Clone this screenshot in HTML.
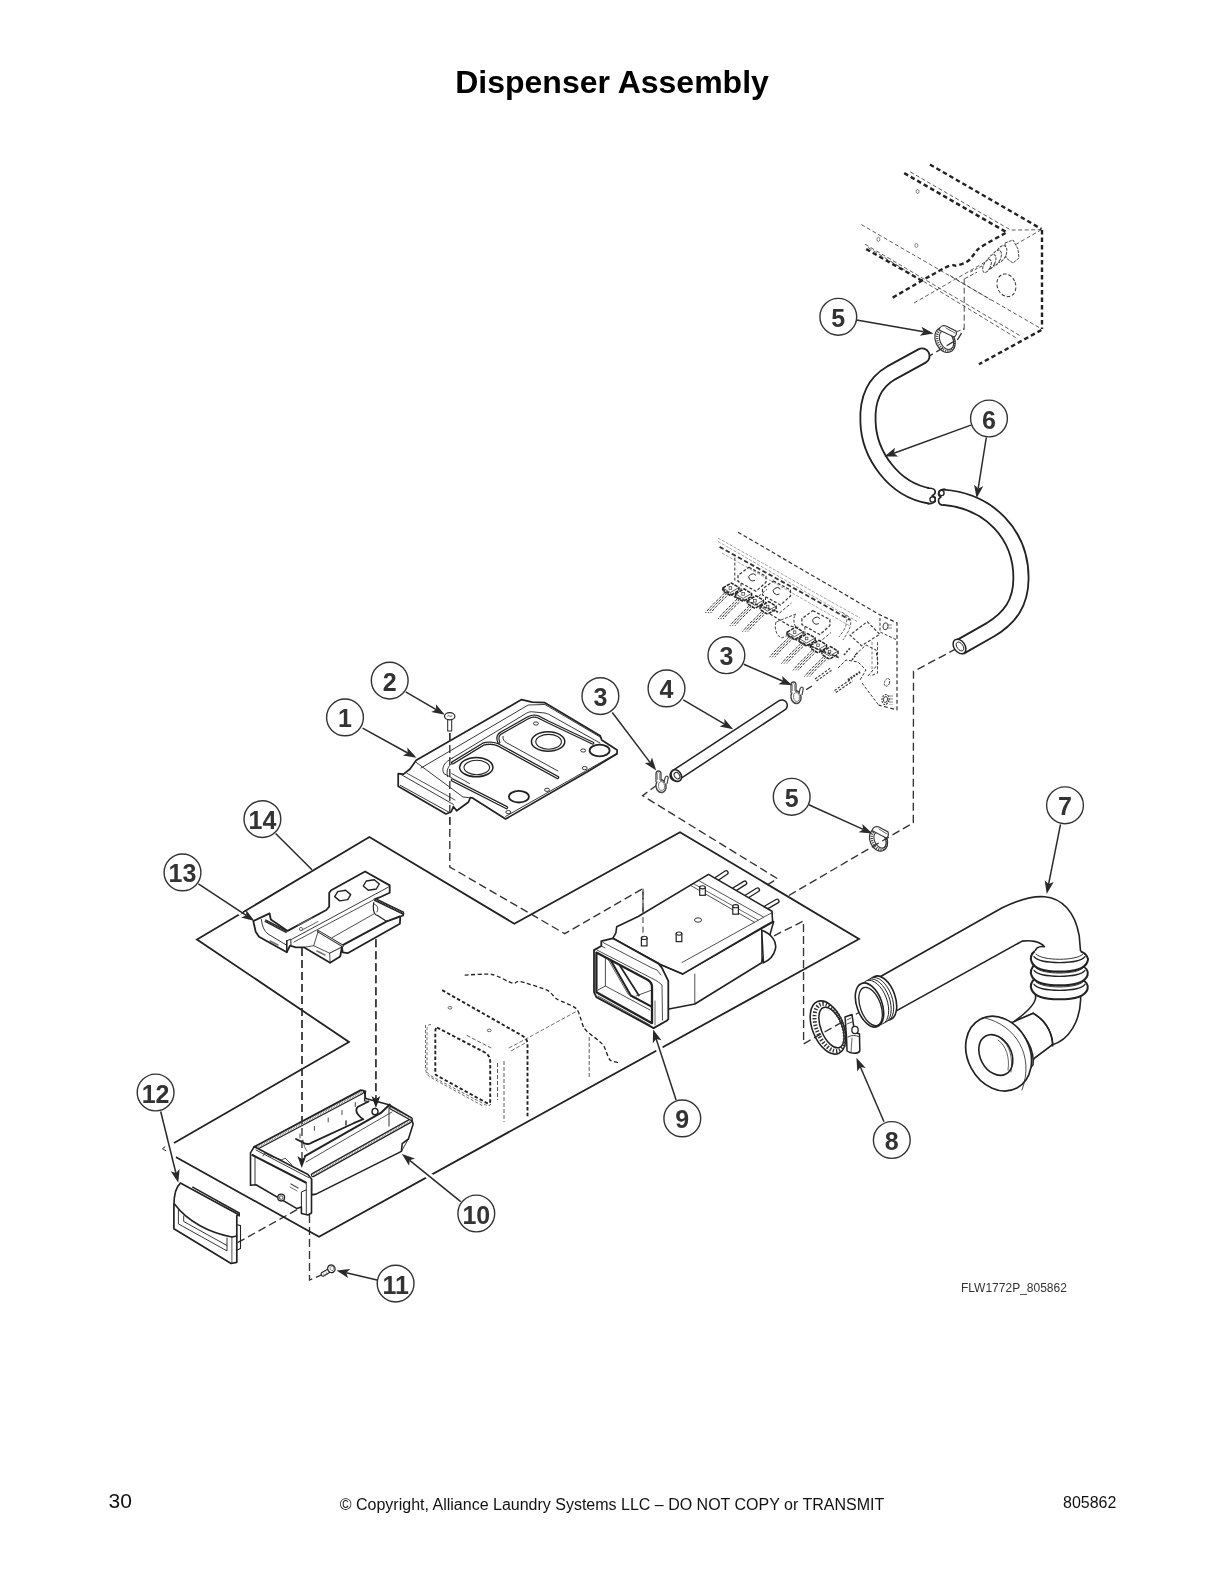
<!DOCTYPE html>
<html><head><meta charset="utf-8">
<style>
html,body{margin:0;padding:0;background:#fff;}
body{width:1224px;height:1584px;overflow:hidden;position:relative;}
svg{position:absolute;left:0;top:0;will-change:transform;}
text{font-family:"Liberation Sans",sans-serif;}
</style></head>
<body>
<svg width="1224" height="1584" viewBox="0 0 1224 1584">
<text x="612" y="93" text-anchor="middle" font-size="32" font-weight="bold" fill="#000">Dispenser Assembly</text>
<text x="108.5" y="1508" font-size="21" fill="#111">30</text>
<text x="612" y="1510" text-anchor="middle" font-size="16" fill="#111">© Copyright, Alliance Laundry Systems LLC – DO NOT COPY or TRANSMIT</text>
<text x="1063" y="1508" font-size="16" fill="#111">805862</text>
<text x="961" y="1292" font-size="12" fill="#333">FLW1772P_805862</text>
<path d="M929.9,164.5 L1041.4,229" fill="none" stroke="#222" stroke-width="2.4" stroke-dasharray="4.5,3"/>
<path d="M1042,230 L1042,329" fill="none" stroke="#222" stroke-width="2.4" stroke-dasharray="4.5,3"/>
<path d="M1041.4,330 L978.9,364.3" fill="none" stroke="#222" stroke-width="2.4" stroke-dasharray="4.5,3"/>
<path d="M904.2,173.1 L1005.9,231.9" fill="none" stroke="#222" stroke-width="2.4" stroke-dasharray="4.5,3"/>
<path d="M866.2,249.1 L922.5,281" fill="none" stroke="#222" stroke-width="2.4" stroke-dasharray="4.5,3"/>
<path d="M1005.6,233 C1001.5,235.3 986.1,243.7 981,247 C975.9,250.3 977.2,250.7 975,253 C972.8,255.3 971,258.9 968,261 C965,263.1 960.9,264.3 957,265.5 C953.1,266.7 955.5,262.6 944.6,268 C933.8,273.4 900.7,293.1 891.9,298.1" fill="none" stroke="#222" stroke-width="2.4" stroke-dasharray="4.5,3"/>
<path d="M910.3,171.9 L1010.8,230.1 L1041.4,229.7" fill="none" stroke="#333" stroke-width="0.8" stroke-dasharray="4,2.5"/>
<path d="M861.3,224.6 L1039,327.5" fill="none" stroke="#333" stroke-width="0.8" stroke-dasharray="4,2.5"/>
<path d="M865,244.2 L1020.6,336" fill="none" stroke="#333" stroke-width="0.8" stroke-dasharray="4,2.5"/>
<path d="M868,247.5 L1018,339" fill="none" stroke="#333" stroke-width="0.8" stroke-dasharray="4,2.5"/>
<path d="M914,303 L1041.4,229.7" fill="none" stroke="#333" stroke-width="0.8" stroke-dasharray="4,2.5"/>
<path d="M950,275.5 L990.8,300" fill="none" stroke="#333" stroke-width="0.8" stroke-dasharray="4,2.5"/>
<ellipse cx="1006.4" cy="285.3" rx="9.2" ry="11.6" transform="rotate(-20 1006.4 285.3)" fill="none" stroke="#333" stroke-width="1" stroke-dasharray="3.5,2"/>
<path d="M1005,243 L1013,240 L1018,249 L1019,258 L1013,263 L1006,258 Z" fill="#fff" stroke="#333" stroke-width="0.9" stroke-dasharray="3,1"/>
<ellipse cx="1001" cy="254" rx="5" ry="9" transform="rotate(25 1001 254)" fill="#fff" stroke="#333" stroke-width="0.9" stroke-dasharray="3,1"/>
<ellipse cx="996" cy="258" rx="4.5" ry="8.5" transform="rotate(25 996 258)" fill="#fff" stroke="#333" stroke-width="0.9" stroke-dasharray="3,1"/>
<ellipse cx="991" cy="262" rx="4" ry="8" transform="rotate(25 991 262)" fill="#fff" stroke="#333" stroke-width="0.9" stroke-dasharray="3,1"/>
<ellipse cx="987" cy="266" rx="3.5" ry="7" transform="rotate(25 987 266)" fill="#fff" stroke="#333" stroke-width="0.9" stroke-dasharray="3,1"/>
<path d="M982,266 L970,272" fill="none" stroke="#333" stroke-width="0.9" stroke-dasharray="3,2"/>
<path d="M964.2,278.7 L964.2,328.7 L952,333.6" fill="none" stroke="#333" stroke-width="0.9" stroke-dasharray="6,3"/>
<path d="M964.7,278.7 L977,272.2" fill="none" stroke="#333" stroke-width="0.9" stroke-dasharray="4,2"/>
<ellipse cx="917.6" cy="191.5" rx="1.5" ry="2" transform="rotate(0 917.6 191.5)" fill="none" stroke="#555" stroke-width="0.7"/>
<ellipse cx="878.4" cy="239.3" rx="1.5" ry="2" transform="rotate(0 878.4 239.3)" fill="none" stroke="#555" stroke-width="0.7"/>
<ellipse cx="916.4" cy="245.4" rx="1.5" ry="2" transform="rotate(0 916.4 245.4)" fill="none" stroke="#555" stroke-width="0.7"/>
<path d="M738,532.2 L880,614.9 L897,622.9 L897,709.8 L878.7,705.2" fill="none" stroke="#333" stroke-width="1.2" stroke-dasharray="4,2.5"/>
<path d="M719.6,546.9 L820,602.7 L850,620" fill="none" stroke="#333" stroke-width="1.8" stroke-dasharray="4.5,2.5"/>
<path d="M718,538 L860,618" fill="none" stroke="#666" stroke-width="0.6" stroke-dasharray="3,1.5"/>
<path d="M718,541.5 L858,622" fill="none" stroke="#666" stroke-width="0.6" stroke-dasharray="3,1.5"/>
<path d="M722,553 L850,626" fill="none" stroke="#666" stroke-width="0.6" stroke-dasharray="3,1.5"/>
<path d="M734.8,557.6 L734.8,581" fill="none" stroke="#333" stroke-width="1.0" stroke-dasharray="3,2"/>
<path d="M846,615 C852,618 852,624 848,632 L843,640" fill="none" stroke="#444" stroke-width="0.8" stroke-dasharray="3,1.5"/>
<path d="M842,612 C848,616 848,622 844,630 L839,637" fill="none" stroke="#444" stroke-width="0.8" stroke-dasharray="3,1.5"/>
<path d="M749,567.3 L766,576.3 L766,582.3 L756,591.3 L738,581.3 L738,575.3Z" fill="none" stroke="#333" stroke-width="1.2" stroke-dasharray="3,1.8"/>
<path d="M756,575.3 A4,3.5 0 1 0 755,580.3" fill="none" stroke="#333" stroke-width="1"/>
<path d="M741,583.3 L741,591.3 L755,599.3 L767,589.3" fill="none" stroke="#333" stroke-width="1.0" stroke-dasharray="3,1.8"/>
<path d="M773.5,581 L790.5,590 L790.5,596 L780.5,605 L762.5,595 L762.5,589Z" fill="none" stroke="#333" stroke-width="1.2" stroke-dasharray="3,1.8"/>
<path d="M780.5,589 A4,3.5 0 1 0 779.5,594" fill="none" stroke="#333" stroke-width="1"/>
<path d="M765.5,597 L765.5,605 L779.5,613 L791.5,603" fill="none" stroke="#333" stroke-width="1.0" stroke-dasharray="3,1.8"/>
<path d="M812.9,610.6 L829.9,619.6 L829.9,625.6 L819.9,634.6 L801.9,624.6 L801.9,618.6Z" fill="none" stroke="#333" stroke-width="1.2" stroke-dasharray="3,1.8"/>
<path d="M819.9,618.6 A4,3.5 0 1 0 818.9,623.6" fill="none" stroke="#333" stroke-width="1"/>
<path d="M804.9,626.6 L804.9,634.6 L818.9,642.6 L830.9,632.6" fill="none" stroke="#333" stroke-width="1.0" stroke-dasharray="3,1.8"/>
<path d="M776,622 C774,628 776,636 782,638 L798,630 C794,626 792,618 796,614 Z" fill="none" stroke="#444" stroke-width="1" stroke-dasharray="3,1.5"/>
<path d="M724.4,593 C721.4,597 713.4,603 705.4,613" fill="none" stroke="#333" stroke-width="1.0" stroke-dasharray="3.2,1.2"/>
<path d="M727.0,593 C724.0,597 716.0,603 708.0,613" fill="none" stroke="#333" stroke-width="1.0" stroke-dasharray="3.2,1.2"/>
<path d="M729.6,593 C726.6,597 718.6,603 710.6,613" fill="none" stroke="#333" stroke-width="1.0" stroke-dasharray="3.2,1.2"/>
<path d="M737.1,598.9 C734.1,602.9 726.1,608.9 718.1,618.9" fill="none" stroke="#333" stroke-width="1.0" stroke-dasharray="3.2,1.2"/>
<path d="M739.7,598.9 C736.7,602.9 728.7,608.9 720.7,618.9" fill="none" stroke="#333" stroke-width="1.0" stroke-dasharray="3.2,1.2"/>
<path d="M742.3000000000001,598.9 C739.3000000000001,602.9 731.3000000000001,608.9 723.3000000000001,618.9" fill="none" stroke="#333" stroke-width="1.0" stroke-dasharray="3.2,1.2"/>
<path d="M748.9,605.8 C745.9,609.8 737.9,615.8 729.9,625.8" fill="none" stroke="#333" stroke-width="1.0" stroke-dasharray="3.2,1.2"/>
<path d="M751.5,605.8 C748.5,609.8 740.5,615.8 732.5,625.8" fill="none" stroke="#333" stroke-width="1.0" stroke-dasharray="3.2,1.2"/>
<path d="M754.1,605.8 C751.1,609.8 743.1,615.8 735.1,625.8" fill="none" stroke="#333" stroke-width="1.0" stroke-dasharray="3.2,1.2"/>
<path d="M761.6,611.6 C758.6,615.6 750.6,621.6 742.6,631.6" fill="none" stroke="#333" stroke-width="1.0" stroke-dasharray="3.2,1.2"/>
<path d="M764.2,611.6 C761.2,615.6 753.2,621.6 745.2,631.6" fill="none" stroke="#333" stroke-width="1.0" stroke-dasharray="3.2,1.2"/>
<path d="M766.8000000000001,611.6 C763.8000000000001,615.6 755.8000000000001,621.6 747.8000000000001,631.6" fill="none" stroke="#333" stroke-width="1.0" stroke-dasharray="3.2,1.2"/>
<path d="M722.9,588 L731.4,583 L738.9,587.5 L738.9,590.5 L730.4,595.5 L722.9,591 Z" fill="#fff" stroke="#222" stroke-width="1.5" stroke-dasharray="3.5,1"/>
<path d="M722.9,588 L730.4,592.5 L738.9,587.5" fill="none" stroke="#333" stroke-width="0.8"/>
<rect x="729.1" y="586.7" width="2.6" height="2.6" fill="none" stroke="#333" stroke-width="0.7"/>
<path d="M735.6,593.9 L744.1,588.9 L751.6,593.4 L751.6,596.4 L743.1,601.4 L735.6,596.9 Z" fill="#fff" stroke="#222" stroke-width="1.5" stroke-dasharray="3.5,1"/>
<path d="M735.6,593.9 L743.1,598.4 L751.6,593.4" fill="none" stroke="#333" stroke-width="0.8"/>
<rect x="741.8000000000001" y="592.6" width="2.6" height="2.6" fill="none" stroke="#333" stroke-width="0.7"/>
<path d="M747.4,600.8 L755.9,595.8 L763.4,600.3 L763.4,603.3 L754.9,608.3 L747.4,603.8 Z" fill="#fff" stroke="#222" stroke-width="1.5" stroke-dasharray="3.5,1"/>
<path d="M747.4,600.8 L754.9,605.3 L763.4,600.3" fill="none" stroke="#333" stroke-width="0.8"/>
<rect x="753.6" y="599.5" width="2.6" height="2.6" fill="none" stroke="#333" stroke-width="0.7"/>
<path d="M760.1,606.6 L768.6,601.6 L776.1,606.1 L776.1,609.1 L767.6,614.1 L760.1,609.6 Z" fill="#fff" stroke="#222" stroke-width="1.5" stroke-dasharray="3.5,1"/>
<path d="M760.1,606.6 L767.6,611.1 L776.1,606.1" fill="none" stroke="#333" stroke-width="0.8"/>
<rect x="766.3000000000001" y="605.3000000000001" width="2.6" height="2.6" fill="none" stroke="#333" stroke-width="0.7"/>
<path d="M788.6,637.2 C785.6,641.2 777.6,647.2 769.6,657.2" fill="none" stroke="#333" stroke-width="1.0" stroke-dasharray="3.2,1.2"/>
<path d="M791.2,637.2 C788.2,641.2 780.2,647.2 772.2,657.2" fill="none" stroke="#333" stroke-width="1.0" stroke-dasharray="3.2,1.2"/>
<path d="M793.8000000000001,637.2 C790.8000000000001,641.2 782.8000000000001,647.2 774.8000000000001,657.2" fill="none" stroke="#333" stroke-width="1.0" stroke-dasharray="3.2,1.2"/>
<path d="M800.6,643.5 C797.6,647.5 789.6,653.5 781.6,663.5" fill="none" stroke="#333" stroke-width="1.0" stroke-dasharray="3.2,1.2"/>
<path d="M803.2,643.5 C800.2,647.5 792.2,653.5 784.2,663.5" fill="none" stroke="#333" stroke-width="1.0" stroke-dasharray="3.2,1.2"/>
<path d="M805.8000000000001,643.5 C802.8000000000001,647.5 794.8000000000001,653.5 786.8000000000001,663.5" fill="none" stroke="#333" stroke-width="1.0" stroke-dasharray="3.2,1.2"/>
<path d="M812.0,650.3 C809.0,654.3 801.0,660.3 793.0,670.3" fill="none" stroke="#333" stroke-width="1.0" stroke-dasharray="3.2,1.2"/>
<path d="M814.6,650.3 C811.6,654.3 803.6,660.3 795.6,670.3" fill="none" stroke="#333" stroke-width="1.0" stroke-dasharray="3.2,1.2"/>
<path d="M817.2,650.3 C814.2,654.3 806.2,660.3 798.2,670.3" fill="none" stroke="#333" stroke-width="1.0" stroke-dasharray="3.2,1.2"/>
<path d="M823.5,656.6 C820.5,660.6 812.5,666.6 804.5,676.6" fill="none" stroke="#333" stroke-width="1.0" stroke-dasharray="3.2,1.2"/>
<path d="M826.1,656.6 C823.1,660.6 815.1,666.6 807.1,676.6" fill="none" stroke="#333" stroke-width="1.0" stroke-dasharray="3.2,1.2"/>
<path d="M828.7,656.6 C825.7,660.6 817.7,666.6 809.7,676.6" fill="none" stroke="#333" stroke-width="1.0" stroke-dasharray="3.2,1.2"/>
<path d="M787.1,632.2 L795.6,627.2 L803.1,631.7 L803.1,634.7 L794.6,639.7 L787.1,635.2 Z" fill="#fff" stroke="#222" stroke-width="1.5" stroke-dasharray="3.5,1"/>
<path d="M787.1,632.2 L794.6,636.7 L803.1,631.7" fill="none" stroke="#333" stroke-width="0.8"/>
<rect x="793.3000000000001" y="630.9000000000001" width="2.6" height="2.6" fill="none" stroke="#333" stroke-width="0.7"/>
<path d="M799.1,638.5 L807.6,633.5 L815.1,638.0 L815.1,641.0 L806.6,646.0 L799.1,641.5 Z" fill="#fff" stroke="#222" stroke-width="1.5" stroke-dasharray="3.5,1"/>
<path d="M799.1,638.5 L806.6,643.0 L815.1,638.0" fill="none" stroke="#333" stroke-width="0.8"/>
<rect x="805.3000000000001" y="637.2" width="2.6" height="2.6" fill="none" stroke="#333" stroke-width="0.7"/>
<path d="M810.5,645.3 L819,640.3 L826.5,644.8 L826.5,647.8 L818,652.8 L810.5,648.3 Z" fill="#fff" stroke="#222" stroke-width="1.5" stroke-dasharray="3.5,1"/>
<path d="M810.5,645.3 L818,649.8 L826.5,644.8" fill="none" stroke="#333" stroke-width="0.8"/>
<rect x="816.7" y="644.0" width="2.6" height="2.6" fill="none" stroke="#333" stroke-width="0.7"/>
<path d="M822.0,651.6 L830.5,646.6 L838.0,651.1 L838.0,654.1 L829.5,659.1 L822.0,654.6 Z" fill="#fff" stroke="#222" stroke-width="1.5" stroke-dasharray="3.5,1"/>
<path d="M822.0,651.6 L829.5,656.1 L838.0,651.1" fill="none" stroke="#333" stroke-width="0.8"/>
<rect x="828.2" y="650.3000000000001" width="2.6" height="2.6" fill="none" stroke="#333" stroke-width="0.7"/>
<path d="M722.5,589 L735,597 L778,612" fill="none" stroke="#333" stroke-width="1.6" stroke-dasharray="3,1.5"/>
<path d="M787,634 L800,642 L840,658" fill="none" stroke="#333" stroke-width="1.6" stroke-dasharray="3,1.5"/>
<path d="M770,614 L790,626 L800,628" fill="none" stroke="#333" stroke-width="1.2" stroke-dasharray="3,1.8"/>
<path d="M815.8,680 L831.8,668.6" fill="none" stroke="#333" stroke-width="3.5" stroke-dasharray="2.5,1.5"/>
<path d="M815.8,680 L831.8,668.6" stroke="#fff" stroke-width="1.5"/>
<path d="M835.2,691.5 L852,680" fill="none" stroke="#333" stroke-width="3.5" stroke-dasharray="2.5,1.5"/>
<path d="M835.2,691.5 L852,680" stroke="#fff" stroke-width="1.5"/>
<path d="M848,680 L860,672" fill="none" stroke="#333" stroke-width="2.2" stroke-dasharray="2,1.2"/>
<path d="M838,668 L846,660 L858,662 L866,670 L860,680" fill="none" stroke="#333" stroke-width="1.0" stroke-dasharray="3,1.8"/>
<path d="M855,655 L866,645 L876,650 L878,664 L868,676" fill="none" stroke="#333" stroke-width="1.0" stroke-dasharray="3,1.8"/>
<path d="M844,655 L850,648" fill="none" stroke="#333" stroke-width="1.5" stroke-dasharray="2,1.5"/>
<path d="M852,660 L858,652" fill="none" stroke="#333" stroke-width="1.5" stroke-dasharray="2,1.5"/>
<path d="M867.2,621.7 L879.8,634.3 L861.5,645.7 L850,635Z" fill="none" stroke="#333" stroke-width="1.1" stroke-dasharray="3,1.8"/>
<path d="M877.5,642.3 L877.5,673.2 L870,676" fill="none" stroke="#333" stroke-width="0.9" stroke-dasharray="3,1.8"/>
<path d="M872,642 L872,670" fill="none" stroke="#333" stroke-width="0.6" stroke-dasharray="3,1.8"/>
<path d="M880,618 L880,632 L897,640" fill="none" stroke="#333" stroke-width="1.0" stroke-dasharray="3,1.8"/>
<ellipse cx="885.5" cy="626.3" rx="2.5" ry="3.5" transform="rotate(10 885.5 626.3)" fill="none" stroke="#333" stroke-width="0.9"/>
<path d="M889,624 L889,630" fill="none" stroke="#333" stroke-width="0.6" stroke-dasharray="2,1"/>
<path d="M891,624 L891,630" fill="none" stroke="#333" stroke-width="0.6" stroke-dasharray="2,1"/>
<ellipse cx="885.5" cy="699.5" rx="3.5" ry="5" transform="rotate(10 885.5 699.5)" fill="none" stroke="#333" stroke-width="1" stroke-dasharray="2,1"/>
<ellipse cx="885.5" cy="699.5" rx="2" ry="3" transform="rotate(10 885.5 699.5)" fill="none" stroke="#333" stroke-width="0.9"/>
<ellipse cx="887" cy="682.4" rx="2.5" ry="4" transform="rotate(20 887 682.4)" fill="none" stroke="#333" stroke-width="0.9" stroke-dasharray="2,1"/>
<path d="M862,683 L878.7,705.2" fill="none" stroke="#333" stroke-width="1.0" stroke-dasharray="3,1.8"/>
<path d="M890,695 L890,705" fill="none" stroke="#333" stroke-width="0.6" stroke-dasharray="2,1"/>
<path d="M892,695 L892,705" fill="none" stroke="#333" stroke-width="0.6" stroke-dasharray="2,1"/>
<path d="M464.7,975.1 C467.9,975 486.6,973.5 492.2,974.5 C497.8,975.5 509.5,982.5 512.7,983.3 C515.9,984.1 515.6,980.6 519.6,981.4 C523.6,982.2 542.6,988.1 547,990.2 C551.4,992.3 553.5,996.8 556.9,999 C560.3,1001.2 573.3,1005.4 576.5,1008.8 C579.7,1012.2 581.8,1024.7 584.3,1028.4 C586.8,1032.1 595.7,1038.1 598,1040.2 C600.3,1042.3 602.5,1043.8 603.9,1046.1 C605.3,1048.4 608.1,1057.9 609.8,1059.8 C611.5,1061.7 617.6,1062.4 618.6,1062.7" fill="none" stroke="#222" stroke-width="1.3" stroke-dasharray="4,2.5"/>
<path d="M442.2,990.2 L521,1035 C525,1037 527.5,1040 527.5,1044 L527.5,1117" fill="none" stroke="#222" stroke-width="1.9" stroke-dasharray="3.5,2.2"/>
<path d="M437,1027.5 L484,1052 C488,1054 490.2,1057 490.2,1062 L490.2,1101 C490,1104 488,1104 485,1102 L436,1075 C435.3,1074 435.3,1072 435.3,1068 L435.3,1032 C435.3,1029 436,1027.5 437,1027.5 Z" fill="none" stroke="#222" stroke-width="1.9" stroke-dasharray="3.5,2.2"/>
<path d="M431,1024.5 C428,1024.5 427,1026 427,1030 L427,1070 C427,1073 429,1075 432,1076.5 L484,1104 C487,1106 490,1106 491,1104" fill="none" stroke="#444" stroke-width="0.8" stroke-dasharray="3,2"/>
<path d="M425.5,1025 L425.5,1068 C425.5,1072 427,1075 430,1077 L483,1106" fill="none" stroke="#444" stroke-width="0.8" stroke-dasharray="3,2"/>
<path d="M466.7,1035.3 L491.2,1048" fill="none" stroke="#333" stroke-width="0.8" stroke-dasharray="4,2"/>
<path d="M508.8,1048 L525.5,1039.2 L577.5,1010.8" fill="none" stroke="#333" stroke-width="0.7" stroke-dasharray="4,2"/>
<path d="M511,1051 L527,1042" fill="none" stroke="#333" stroke-width="0.7" stroke-dasharray="4,2"/>
<path d="M497.5,1063 L497.5,1100" fill="none" stroke="#333" stroke-width="0.8" stroke-dasharray="4,2"/>
<path d="M504,1061 L504,1122" fill="none" stroke="#333" stroke-width="0.8" stroke-dasharray="4,2"/>
<path d="M589.2,1037 L589.2,1077.5" fill="none" stroke="#333" stroke-width="0.8" stroke-dasharray="4,2"/>
<ellipse cx="450" cy="1007.8" rx="2" ry="1.3" transform="rotate(0 450 1007.8)" fill="none" stroke="#444" stroke-width="0.8"/>
<ellipse cx="489.2" cy="1030.4" rx="2" ry="1.3" transform="rotate(0 489.2 1030.4)" fill="none" stroke="#444" stroke-width="0.8"/>
<path d="M449.8,733 L449.8,867 L564.7,933.7 L643,888.6 L643,937.6" fill="none" stroke="#333" stroke-width="1.35" stroke-dasharray="8,4"/>
<path d="M657,785 L642.6,795.7 L777.4,878.6 L764.3,886.8" fill="none" stroke="#333" stroke-width="1.35" stroke-dasharray="8,4"/>
<path d="M956.4,648.7 L913.5,671.4 L913.3,822.8 L787,896.6" fill="none" stroke="#333" stroke-width="1.35" stroke-dasharray="8,4"/>
<path d="M774,935.8 L803.5,921 L803.6,1043.9 L877.2,1002.2" fill="none" stroke="#333" stroke-width="1.35" stroke-dasharray="8,4"/>
<path d="M302,948 L302,1160" fill="none" stroke="#333" stroke-width="1.35" stroke-dasharray="8,4"/>
<path d="M375.9,939.3 L375.9,1100" fill="none" stroke="#333" stroke-width="1.35" stroke-dasharray="8,4"/>
<path d="M309.5,1215 L309.5,1280 L333,1270" fill="none" stroke="#333" stroke-width="1.35" stroke-dasharray="8,4"/>
<path d="M237.5,1242.7 L299.3,1208.4" fill="none" stroke="#333" stroke-width="1.35" stroke-dasharray="8,4"/>
<path d="M926,358 L958,339 L964.2,328.7" fill="none" stroke="#333" stroke-width="1.35" stroke-dasharray="8,4"/>
<path d="M796,696 L812,686" fill="none" stroke="#333" stroke-width="1.35" stroke-dasharray="8,4"/>
<path d="M174,1143 L349,1042 L197,939.5 L369.4,837.1 L514.3,923.7 L680,832.2 L859,939 L319,1236.7 L175.7,1157" fill="none" stroke="#222" stroke-width="1.8"/>
<path d="M165.4,1146.5 L162.5,1148.7 L166.3,1151" fill="none" stroke="#222" stroke-width="1"/>
<path d="M922,356 L891,373 C872,384 867,402 868,422 C869,454 893,490 930,496" fill="none" stroke="#222" stroke-width="17" stroke-linecap="round"/>
<path d="M922,356 L891,373 C872,384 867,402 868,422 C869,454 893,490 930,496" fill="none" stroke="#fff" stroke-width="13.4" stroke-linecap="round"/>
<rect x="929" y="484" width="12" height="24" fill="#fff"/>
<path d="M928,488.3 L930.7,488.3 C936,489 937,493 932,496 C937,497 938,502 930.7,503.6 L928,503.6" fill="none" stroke="#222" stroke-width="1.6" stroke-linejoin="round" stroke-linecap="round" />
<circle cx="932.5" cy="499.5" r="2.6" fill="none" stroke="#222" stroke-width="1.3"/>
<path d="M943,497.3 C990,501 1021,535 1021,578 C1021,603 1010,618 990,630 L960,647" fill="none" stroke="#222" stroke-width="17"/>
<path d="M943,497.3 C990,501 1021,535 1021,578 C1021,603 1010,618 990,630 L960,647" fill="none" stroke="#fff" stroke-width="13.4"/>
<rect x="936" y="486" width="7" height="22" fill="#fff"/>
<path d="M945,489.4 L943.2,489.4 C938,490 937,495 941,497 C937,499 938,505 943.2,505.2 L945,505.2" fill="none" stroke="#222" stroke-width="1.6" stroke-linejoin="round" stroke-linecap="round" />
<circle cx="941.5" cy="493" r="2.6" fill="none" stroke="#222" stroke-width="1.3"/>
<ellipse cx="959.5" cy="646.5" rx="5.5" ry="8" transform="rotate(-35 959.5 646.5)" fill="#fff" stroke="#222" stroke-width="1.5"/>
<ellipse cx="960" cy="646.5" rx="3" ry="5" transform="rotate(-35 960 646.5)" fill="#fff" stroke="#222" stroke-width="0.9"/>
<path d="M675.6,775.3 L781.8,705.4" fill="none" stroke="#222" stroke-width="12.5" stroke-linecap="round"/>
<path d="M675.6,775.3 L781.8,705.4" fill="none" stroke="#fff" stroke-width="9.5" stroke-linecap="round"/>
<ellipse cx="676.3" cy="775.6" rx="4.8" ry="6.2" transform="rotate(-35 676.3 775.6)" fill="#fff" stroke="#222" stroke-width="1.6"/>
<ellipse cx="677" cy="775.6" rx="2.5" ry="3.5" transform="rotate(-35 677 775.6)" fill="#fff" stroke="#222" stroke-width="1"/>
<path d="M521.6,699.6 L532.2,702.2 L544.9,702.7 L600.2,735.7 L601.7,740 L617.1,750 L617.1,753.7 L587.4,771.8 L505.6,819 L472.5,798 L470.4,797.5 L468.3,802.3 L456.6,810.8 L453.4,806.5 L451.3,811.8 L446,814 L398.2,786.3 L398.2,773.6 L403.5,774.1 L410,769 L416.2,760.3Z" fill="#fff" stroke="#222" stroke-width="1.7" stroke-linejoin="round"/>
<path d="M505.6,816.4 L617.1,753.2" fill="none" stroke="#222" stroke-width="0.9" stroke-linejoin="round" stroke-linecap="round" />
<path d="M421,768 L528.2,705 L544.9,704.5 L601.7,738" fill="none" stroke="#222" stroke-width="0.9" stroke-linejoin="round" stroke-linecap="round" />
<path d="M416.2,762.4 L463,797 L472.5,798" fill="none" stroke="#222" stroke-width="0.9" stroke-linejoin="round" stroke-linecap="round" />
<path d="M400.3,774.1 L453.4,804.4" fill="none" stroke="#222" stroke-width="0.9" stroke-linejoin="round" stroke-linecap="round" />
<path d="M400.3,785.3 L450.2,812.9" fill="none" stroke="#222" stroke-width="0.9" stroke-linejoin="round" stroke-linecap="round" />
<path d="M406.7,773.1 L455,800" fill="none" stroke="#222" stroke-width="0.8" stroke-linejoin="round" stroke-linecap="round" />
<path d="M452.7,757.9 L526.3,713.3 C529,711.8 531,711.5 533.1,711.9 L542.9,712.8 C546,713 548,714 550,715 L600,743" fill="none" stroke="#222" stroke-width="0.9" stroke-linejoin="round" stroke-linecap="round" />
<path d="M452.7,757.9 C444,762 441,768 443.9,773.6 L452,778" fill="none" stroke="#222" stroke-width="0.9" stroke-linejoin="round" stroke-linecap="round" />
<path d="M455,761.5 C448,765 446,770 447.5,776.5" fill="none" stroke="#222" stroke-width="0.9" stroke-linejoin="round" stroke-linecap="round" />
<path d="M452.7,762.8 L483.1,744.2 C487,742.8 494,742.6 498.8,745.2 L557.6,777.5" fill="none" stroke="#222" stroke-width="3.4" stroke-linecap="round"/>
<path d="M452.7,762.8 L483.1,744.2 C487,742.8 494,742.6 498.8,745.2 L557.6,777.5" fill="none" stroke="#fff" stroke-width="1.0" stroke-linecap="round"/>
<path d="M498.8,742.3 C497,738 498,734.4 502,732.5 L528.2,717.7 C532,715.8 535,715.8 538,716.8 L548,721.9 L592.7,743.1" fill="none" stroke="#222" stroke-width="3.2" stroke-linecap="round"/>
<path d="M498.8,742.3 C497,738 498,734.4 502,732.5 L528.2,717.7 C532,715.8 535,715.8 538,716.8 L548,721.9 L592.7,743.1" fill="none" stroke="#fff" stroke-width="0.9" stroke-linecap="round"/>
<path d="M503,736.4 C502.5,739 504,741.5 506.7,742.8 L558,771" fill="none" stroke="#222" stroke-width="0.9" stroke-linejoin="round" stroke-linecap="round" />
<path d="M452.4,780 L506.5,807.6" fill="none" stroke="#222" stroke-width="3.4" stroke-linecap="round"/>
<path d="M452.4,780 L506.5,807.6" fill="none" stroke="#fff" stroke-width="1.0" stroke-linecap="round"/>
<path d="M451.8,773.6 L469.4,783.4" fill="none" stroke="#222" stroke-width="0.8" stroke-linejoin="round" stroke-linecap="round" />
<ellipse cx="476.3" cy="767.2" rx="16.7" ry="9.6" transform="rotate(0 476.3 767.2)" fill="none" stroke="#222" stroke-width="1.5"/>
<ellipse cx="476.8" cy="767.5" rx="12.8" ry="7.2" transform="rotate(0 476.8 767.5)" fill="none" stroke="#222" stroke-width="1.1"/>
<ellipse cx="548.1" cy="741.5" rx="16.7" ry="9.8" transform="rotate(0 548.1 741.5)" fill="none" stroke="#222" stroke-width="1.5"/>
<ellipse cx="548.6" cy="741.8" rx="12.8" ry="7.4" transform="rotate(0 548.6 741.8)" fill="none" stroke="#222" stroke-width="1.1"/>
<ellipse cx="599.6" cy="750.5" rx="10" ry="5.8" transform="rotate(0 599.6 750.5)" fill="none" stroke="#222" stroke-width="1.8"/>
<ellipse cx="518.9" cy="796.7" rx="10" ry="5.8" transform="rotate(0 518.9 796.7)" fill="none" stroke="#222" stroke-width="1.8"/>
<ellipse cx="535.9" cy="723.5" rx="2.5" ry="1.6" transform="rotate(0 535.9 723.5)" fill="none" stroke="#222" stroke-width="0.9"/>
<ellipse cx="583.2" cy="750.5" rx="2.5" ry="1.6" transform="rotate(0 583.2 750.5)" fill="none" stroke="#222" stroke-width="0.9"/>
<ellipse cx="584.7" cy="768.1" rx="2.5" ry="1.6" transform="rotate(0 584.7 768.1)" fill="none" stroke="#222" stroke-width="0.9"/>
<ellipse cx="547" cy="789.8" rx="2.5" ry="1.6" transform="rotate(0 547 789.8)" fill="none" stroke="#222" stroke-width="0.9"/>
<ellipse cx="508.3" cy="812.1" rx="2.5" ry="1.6" transform="rotate(0 508.3 812.1)" fill="none" stroke="#222" stroke-width="0.9"/>
<rect x="447.7" y="719" width="4" height="12" fill="#fff" stroke="#222" stroke-width="1"/>
<ellipse cx="449.7" cy="716.2" rx="5.2" ry="3.6" transform="rotate(0 449.7 716.2)" fill="#fff" stroke="#222" stroke-width="1.2"/>
<path d="M447.5,716 C449,714.5 450.5,717.5 452,716" fill="none" stroke="#222" stroke-width="0.7" stroke-linejoin="round" stroke-linecap="round" />
<path d="M449.8,733 L449.8,830" fill="none" stroke="#333" stroke-width="1.35" stroke-dasharray="8,4"/>
<path d="M874.4,980 L1002.2,907.8 C1020,899 1035,896 1044.4,896.7 C1062,898 1075,912 1079.2,935.6 L1080.6,952 L1080.6,1000 C1080,1020 1070,1040 1051.4,1045.3 L1034.7,1057.8 L1033.3,1013.3 L1013.9,1021.7 C1030,1010 1035,1003 1035.6,998 L1034.7,952.2 C1036,947 1040,946 1044.4,946.7 C1040,941 1030,940 1022.2,941.1 L896.7,1010.6 Z" fill="#fff" stroke="#222" stroke-width="1.6" stroke-linejoin="round"/>
<path d="M1034.8,978.8 C1031,981.3 1030,986.3 1031.5,989.3 C1034,996.3 1045,999.3 1059.5,999.3 C1074,999.3 1085,996.3 1087.5,989.3 C1089,985.3 1086,981.3 1080.5,978.8 Z" fill="#fff" stroke="none"/>
<path d="M1034.8,978.8 C1031,981.3 1030,986.3 1031.5,989.3 C1034,996.3 1045,999.3 1059.5,999.3 C1074,999.3 1085,996.3 1087.5,989.3 C1089,985.3 1086,981.3 1080.5,978.8" fill="none" stroke="#222" stroke-width="2.1"/>
<path d="M1034,984.3 C1040,992.3 1079,992.3 1085,984.3" fill="none" stroke="#222" stroke-width="1.3" stroke-linejoin="round" stroke-linecap="round" />
<path d="M1036,981.8 C1042,988.8 1077,988.8 1083,981.8" fill="none" stroke="#222" stroke-width="0.9" stroke-linejoin="round" stroke-linecap="round" />
<path d="M1034.8,964.9 C1031,967.4 1030,972.4 1031.5,975.4 C1034,982.4 1045,985.4 1059.5,985.4 C1074,985.4 1085,982.4 1087.5,975.4 C1089,971.4 1086,967.4 1080.5,964.9 Z" fill="#fff" stroke="none"/>
<path d="M1034.8,964.9 C1031,967.4 1030,972.4 1031.5,975.4 C1034,982.4 1045,985.4 1059.5,985.4 C1074,985.4 1085,982.4 1087.5,975.4 C1089,971.4 1086,967.4 1080.5,964.9" fill="none" stroke="#222" stroke-width="2.1"/>
<path d="M1034,970.4 C1040,978.4 1079,978.4 1085,970.4" fill="none" stroke="#222" stroke-width="1.3" stroke-linejoin="round" stroke-linecap="round" />
<path d="M1036,967.9 C1042,974.9 1077,974.9 1083,967.9" fill="none" stroke="#222" stroke-width="0.9" stroke-linejoin="round" stroke-linecap="round" />
<path d="M1034.8,951.1 C1031,953.6 1030,958.6 1031.5,961.6 C1034,968.6 1045,971.6 1059.5,971.6 C1074,971.6 1085,968.6 1087.5,961.6 C1089,957.6 1086,953.6 1080.5,951.1 Z" fill="#fff" stroke="none"/>
<path d="M1034.8,951.1 C1031,953.6 1030,958.6 1031.5,961.6 C1034,968.6 1045,971.6 1059.5,971.6 C1074,971.6 1085,968.6 1087.5,961.6 C1089,957.6 1086,953.6 1080.5,951.1" fill="none" stroke="#222" stroke-width="2.1"/>
<path d="M1034,956.6 C1040,964.6 1079,964.6 1085,956.6" fill="none" stroke="#222" stroke-width="1.3" stroke-linejoin="round" stroke-linecap="round" />
<path d="M1036,954.1 C1042,961.1 1077,961.1 1083,954.1" fill="none" stroke="#222" stroke-width="0.9" stroke-linejoin="round" stroke-linecap="round" />
<path d="M1013.9,1021.7 L1033.3,1013.3 C1045,1020 1052,1032 1052.8,1043.9 L1051.4,1045.3 L1034.7,1057.8 L1032,1062 L1000,1075 L990,1030 Z" fill="#fff" stroke="#222" stroke-width="1.5" stroke-linejoin="round"/>
<path d="M1033.3,1013.3 C1045,1020 1052,1032 1052.8,1046" fill="none" stroke="#222" stroke-width="1.5" stroke-linejoin="round" stroke-linecap="round" />
<path d="M997,1019 C1020,1025 1035,1045 1033,1065 L1015,1085 C1005,1070 995,1040 997,1019 Z" fill="#fff" stroke="#222" stroke-width="1.5"/>
<ellipse cx="998.6" cy="1053.6" rx="31" ry="39" transform="rotate(-28 998.6 1053.6)" fill="#fff" stroke="#222" stroke-width="1.7"/>
<path d="M985,1018 C1015,1025 1035,1055 1022,1090" fill="none" stroke="#222" stroke-width="0.8" stroke-linejoin="round" stroke-linecap="round" />
<ellipse cx="995.8" cy="1055" rx="15.5" ry="21.5" transform="rotate(-28 995.8 1055)" fill="#fff" stroke="#222" stroke-width="1.6"/>
<path d="M998,1040 C1006,1045 1010,1058 1008,1070" fill="none" stroke="#222" stroke-width="0.7" stroke-linejoin="round" stroke-linecap="round" />
<path d="M1001,1039 C1010,1045 1013,1058 1011,1072" fill="none" stroke="#222" stroke-width="0.7" stroke-linejoin="round" stroke-linecap="round" />
<ellipse cx="882.5" cy="998" rx="12.6" ry="23" transform="rotate(-20 882.5 998)" fill="#fff" stroke="#222" stroke-width="1.6"/>
<ellipse cx="879.5" cy="999.5" rx="12.6" ry="23" transform="rotate(-20 879.5 999.5)" fill="#fff" stroke="#222" stroke-width="0.9"/>
<ellipse cx="877" cy="1001" rx="12.6" ry="23" transform="rotate(-20 877 1001)" fill="#fff" stroke="#222" stroke-width="0.9"/>
<ellipse cx="874.5" cy="1002.3" rx="12.6" ry="23" transform="rotate(-20 874.5 1002.3)" fill="#fff" stroke="#222" stroke-width="0.9"/>
<ellipse cx="869.5" cy="1005" rx="12.6" ry="23" transform="rotate(-20 869.5 1005)" fill="#fff" stroke="#222" stroke-width="1.6"/>
<ellipse cx="870.6" cy="1006.5" rx="10.2" ry="20" transform="rotate(-20 870.6 1006.5)" fill="#fff" stroke="#222" stroke-width="1.3"/>
<ellipse cx="828" cy="1027.5" rx="15.5" ry="28" transform="rotate(-22 828 1027.5)" fill="none" stroke="#222" stroke-width="1.6"/>
<ellipse cx="831.5" cy="1027.5" rx="10.5" ry="21.5" transform="rotate(-22 831.5 1027.5)" fill="none" stroke="#222" stroke-width="1.5"/>
<ellipse cx="829.7" cy="1027.5" rx="13" ry="24.8" transform="rotate(-22 829.7 1027.5)" fill="none" stroke="#333" stroke-width="4" stroke-dasharray="1.4,1.8"/>
<path d="M845,1017 L852,1014.5 L854.5,1032 L859.5,1034 L859.8,1051 C858,1054 851,1054 847,1051 L846.5,1036 Z" fill="#fff" stroke="#222" stroke-width="1.5" stroke-linejoin="round"/>
<path d="M847,1020 L851,1018" fill="none" stroke="#222" stroke-width="0.8" stroke-linejoin="round" stroke-linecap="round" />
<path d="M847,1024 L852,1022" fill="none" stroke="#222" stroke-width="0.8" stroke-linejoin="round" stroke-linecap="round" />
<ellipse cx="855" cy="1030" rx="3.2" ry="3.6" transform="rotate(0 855 1030)" fill="#fff" stroke="#222" stroke-width="1.3"/>
<path d="M848,1037 C851,1035 856,1035 859.5,1037" fill="none" stroke="#222" stroke-width="0.9" stroke-linejoin="round" stroke-linecap="round" />
<path d="M852,1038 L851,1053" fill="none" stroke="#222" stroke-width="0.7" stroke-linejoin="round" stroke-linecap="round" />
<path d="M715.3,879.9 L726.1,872.7" fill="none" stroke="#222" stroke-width="5.2" stroke-linejoin="round" stroke-linecap="round" />
<path d="M715.3,879.9 L726.1,872.7" fill="none" stroke="#fff" stroke-width="2.6" stroke-linejoin="round" stroke-linecap="round" />
<path d="M733.9,889.7 L744.7,883" fill="none" stroke="#222" stroke-width="5.2" stroke-linejoin="round" stroke-linecap="round" />
<path d="M733.9,889.7 L744.7,883" fill="none" stroke="#fff" stroke-width="2.6" stroke-linejoin="round" stroke-linecap="round" />
<path d="M746.6,896.6 L757.5,889.9" fill="none" stroke="#222" stroke-width="5.2" stroke-linejoin="round" stroke-linecap="round" />
<path d="M746.6,896.6 L757.5,889.9" fill="none" stroke="#fff" stroke-width="2.6" stroke-linejoin="round" stroke-linecap="round" />
<path d="M766.2,907.4 L777,901.2" fill="none" stroke="#222" stroke-width="5.2" stroke-linejoin="round" stroke-linecap="round" />
<path d="M766.2,907.4 L777,901.2" fill="none" stroke="#fff" stroke-width="2.6" stroke-linejoin="round" stroke-linecap="round" />
<path d="M682.8,973.9 L773.7,921.6 L761.7,962.8 L694.8,1004 L669,1009 L660,990 L660.5,964.5Z" fill="#fff" stroke="#222" stroke-width="1.6" stroke-linejoin="round"/>
<path d="M761.7,930.2 C772,934 777,942 775.4,949 C774,955 770,960 763.4,962.8 Z" fill="#fff" stroke="#222" stroke-width="1.6"/>
<path d="M694.8,974 L694.8,1004" fill="none" stroke="#222" stroke-width="0.8" stroke-linejoin="round" stroke-linecap="round" />
<path d="M761.7,930 L761.7,962.8" fill="none" stroke="#222" stroke-width="0.9" stroke-linejoin="round" stroke-linecap="round" />
<path d="M708.5,874.4 L772,911.3 L772.6,921.8 L765.3,925.7 L682.8,973.9 L660.5,964.5 L612.8,938.3 L615.9,932.8 L616.7,926.8 L638.2,916.5Z" fill="#fff" stroke="#222" stroke-width="1.6" stroke-linejoin="round"/>
<path d="M772.2,912.5 L682,962.5" fill="none" stroke="#222" stroke-width="0.8" stroke-linejoin="round" stroke-linecap="round" />
<path d="M699.6,881.1 L763.3,916.9" fill="none" stroke="#222" stroke-width="0.8" stroke-linejoin="round" stroke-linecap="round" />
<path d="M690.8,885.5 L754.5,922.3" fill="none" stroke="#222" stroke-width="0.8" stroke-linejoin="round" stroke-linecap="round" />
<path d="M694,884 L758,920" fill="none" stroke="#222" stroke-width="0.7" stroke-linejoin="round" stroke-linecap="round" />
<path d="M660.5,964.5 L682.8,973.9" fill="none" stroke="#222" stroke-width="0.8" stroke-linejoin="round" stroke-linecap="round" />
<path d="M594,950.1 L601.3,946 L601.3,941.1 L612.8,938.3 L658.5,963.6 L661.8,967.7 L668.3,980.8 L668.3,1019.2 L666.7,1020.8 L653.6,1028.1 L596.4,997.1 L594,992.2Z" fill="#fff" stroke="#222" stroke-width="1.8" stroke-linejoin="round"/>
<path d="M603,942.5 L652,968 L657,970 L661,975" fill="none" stroke="#222" stroke-width="0.8" stroke-linejoin="round" stroke-linecap="round" />
<path d="M597,950 L657,981 L662,985 L662.5,1020" fill="none" stroke="#222" stroke-width="0.8" stroke-linejoin="round" stroke-linecap="round" />
<path d="M601.3,946 L605,948" fill="none" stroke="#222" stroke-width="0.8" stroke-linejoin="round" stroke-linecap="round" />
<path d="M596.4,952.6 L648,980 C651,982 652,984 652,987 L652,1023.2 L596.4,992.2 Z" fill="#fff" stroke="#222" stroke-width="2.3" stroke-linejoin="round"/>
<path d="M598,996 L650,1025" fill="none" stroke="#222" stroke-width="0.8" stroke-linejoin="round" stroke-linecap="round" />
<path d="M605.4,958 L605.4,986 L650,1010" fill="none" stroke="#222" stroke-width="0.8" stroke-linejoin="round" stroke-linecap="round" />
<path d="M605.4,986 L598,990" fill="none" stroke="#222" stroke-width="0.8" stroke-linejoin="round" stroke-linecap="round" />
<path d="M611.1,961.1 L630.8,995.5 L652,1006.9" fill="none" stroke="#222" stroke-width="2.0" stroke-linejoin="round" stroke-linecap="round" />
<path d="M608.5,960 L628,994 L634,998" fill="none" stroke="#222" stroke-width="0.7" stroke-linejoin="round" stroke-linecap="round" />
<path d="M620.1,966 L638.9,995.5" fill="none" stroke="#222" stroke-width="1.7" stroke-linejoin="round" stroke-linecap="round" />
<path d="M636,996 L652,990" fill="none" stroke="#222" stroke-width="0.8" stroke-linejoin="round" stroke-linecap="round" />
<path d="M655,1001 L655,1025" fill="none" stroke="#222" stroke-width="0.7" stroke-linejoin="round" stroke-linecap="round" />
<rect x="641.4000000000001" y="937.9" width="5.6" height="8" fill="#fff" stroke="#222" stroke-width="1.2"/>
<ellipse cx="644.2" cy="937.9" rx="2.8" ry="1.6" transform="rotate(0 644.2 937.9)" fill="#fff" stroke="#222" stroke-width="1.1"/>
<rect x="676.2" y="933.6" width="5.6" height="8" fill="#fff" stroke="#222" stroke-width="1.2"/>
<ellipse cx="679" cy="933.6" rx="2.8" ry="1.6" transform="rotate(0 679 933.6)" fill="#fff" stroke="#222" stroke-width="1.1"/>
<rect x="699.7" y="887.3" width="5.6" height="8" fill="#fff" stroke="#222" stroke-width="1.2"/>
<ellipse cx="702.5" cy="887.3" rx="2.8" ry="1.6" transform="rotate(0 702.5 887.3)" fill="#fff" stroke="#222" stroke-width="1.1"/>
<rect x="732.8000000000001" y="906.2" width="5.6" height="8" fill="#fff" stroke="#222" stroke-width="1.2"/>
<ellipse cx="735.6" cy="906.2" rx="2.8" ry="1.6" transform="rotate(0 735.6 906.2)" fill="#fff" stroke="#222" stroke-width="1.1"/>
<ellipse cx="698" cy="920" rx="3.5" ry="2.2" transform="rotate(0 698 920)" fill="none" stroke="#222" stroke-width="0.9"/>
<path d="M643,888.6 L643,937.6" fill="none" stroke="#333" stroke-width="1" stroke-dasharray="6,3.5"/>
<path d="M365.1,871.5 L389.7,885.4 L389.7,892.8 L379.4,897.5 L374.5,899.3 L403.5,913.2 L403.1,915.5 L400.3,916.5 L399.9,923.8 L347.6,953.2 L342.7,952.4 L341.9,947 L340.2,956.5 L330.1,962.8 L303.9,947.3 L295.8,947.3 L290,945.7 L286.8,952.2 L259,936.7 L255.7,931.8 L253.3,921.1 L269.6,913.4 L270.8,919.5 L287.6,930.9 L326.3,910 L329.2,906.7 L329.2,892.8 L331.2,890.3Z" fill="#fff" stroke="#222" stroke-width="1.8" stroke-linejoin="round"/>
<path d="M291.5,939.4 L388.4,887.1" fill="none" stroke="#222" stroke-width="0.9" stroke-linejoin="round" stroke-linecap="round" />
<path d="M294,942 L379,897" fill="none" stroke="#222" stroke-width="0.8" stroke-linejoin="round" stroke-linecap="round" />
<path d="M334.7,896.6 L337.7,891.6 L345.7,890.3000000000001 L350.7,894.6 L347.7,899.6 L339.7,900.9 Z" fill="#fff" stroke="#222" stroke-width="1.4" stroke-linejoin="round"/>
<path d="M363.3,886 L366.3,881 L374.3,879.7 L379.3,884 L376.3,889 L368.3,890.3 Z" fill="#fff" stroke="#222" stroke-width="1.4" stroke-linejoin="round"/>
<path d="M374.5,899.3 L403.5,913.2" stroke="#222" stroke-width="3.2" fill="none"/>
<path d="M374.5,899.3 L403.5,913.2" stroke="#888" stroke-width="1.2" stroke-dasharray="0.7,1" fill="none"/>
<path d="M373.7,902.6 C373,907 373.5,911 374.5,913.2 C375.5,915 377,915.5 378,915.7 L386.8,921.4" fill="none" stroke="#222" stroke-width="1.2" stroke-linejoin="round" stroke-linecap="round" />
<path d="M374,904 C377,905 379,908 377,912" fill="none" stroke="#222" stroke-width="0.8" stroke-linejoin="round" stroke-linecap="round" />
<path d="M399.9,916.5 L386.8,921.4 L342.7,945.1" fill="none" stroke="#222" stroke-width="2.0" stroke-linejoin="round" stroke-linecap="round" />
<path d="M373.7,914 L332,937.7" fill="none" stroke="#222" stroke-width="0.8" stroke-linejoin="round" stroke-linecap="round" />
<path d="M318.2,931.2 L342.7,945.9" fill="none" stroke="#222" stroke-width="2.4" stroke-linejoin="round" stroke-linecap="round" />
<path d="M318.2,931.2 L342.7,945.9" fill="none" stroke="#fff" stroke-width="0.8" stroke-linejoin="round" stroke-linecap="round" />
<path d="M318.2,931.2 L313.7,945.7 L303.9,947.3" fill="none" stroke="#222" stroke-width="0.8" stroke-linejoin="round" stroke-linecap="round" />
<path d="M313.7,945.7 L329.6,953.2 L330.1,962.8" fill="none" stroke="#222" stroke-width="0.8" stroke-linejoin="round" stroke-linecap="round" />
<path d="M329.6,953.2 L341.9,947" fill="none" stroke="#222" stroke-width="1.0" stroke-linejoin="round" stroke-linecap="round" />
<path d="M317,951 L325,955" fill="none" stroke="#777" stroke-width="1.6" stroke-linejoin="round" stroke-linecap="round" />
<path d="M261.4,919.5 C262,926 264,931 268,934 L286,944.8" fill="none" stroke="#222" stroke-width="0.9" stroke-linejoin="round" stroke-linecap="round" />
<path d="M265,920.5 L287,932" stroke="#222" stroke-width="2.8" fill="none"/>
<path d="M265,920.5 L287,932" stroke="#888" stroke-width="1.0" stroke-dasharray="0.7,1" fill="none"/>
<path d="M286.8,940.8 L286.8,952.2" fill="none" stroke="#222" stroke-width="1.6" stroke-linejoin="round" stroke-linecap="round" />
<path d="M286.8,940.8 L290.8,939.1 L291,945" fill="none" stroke="#222" stroke-width="1.0" stroke-linejoin="round" stroke-linecap="round" />
<path d="M270,941 L278,945" fill="none" stroke="#777" stroke-width="1.6" stroke-linejoin="round" stroke-linecap="round" />
<path d="M298,925 L312,918" fill="none" stroke="#666" stroke-width="1.2" stroke-linejoin="round" stroke-linecap="round" />
<path d="M302,930 L318,921.5" fill="none" stroke="#666" stroke-width="1.0" stroke-linejoin="round" stroke-linecap="round" />
<ellipse cx="301" cy="929" rx="1.6" ry="1.6" transform="rotate(0 301 929)" fill="none" stroke="#444" stroke-width="0.8"/>
<path d="M254.2,1146.7 L360.3,1090.1 L364.2,1090.9 L365.7,1098.6 L389,1104.8 L411.5,1118 L413.1,1124.2 L408.4,1139 L402.2,1143.6 L401.4,1151.4 L316,1194.1 L311.5,1194.9 L311.5,1179Z" fill="#fff" stroke="#222" stroke-width="1.6" stroke-linejoin="round"/>
<path d="M258,1147 L362,1092" fill="none" stroke="#222" stroke-width="4.4" stroke-linejoin="round" stroke-linecap="round" />
<path d="M258,1147 L362,1092" fill="none" stroke="#fff" stroke-width="2.0000000000000004" stroke-linejoin="round" stroke-linecap="round" />
<path d="M258,1147 L362,1092" stroke="#666" stroke-width="2.0000000000000004" stroke-dasharray="0.7,1.1" fill="none"/>
<path d="M313,1175 L410,1121" fill="none" stroke="#222" stroke-width="4.4" stroke-linejoin="round" stroke-linecap="round" />
<path d="M313,1175 L410,1121" fill="none" stroke="#fff" stroke-width="2.0000000000000004" stroke-linejoin="round" stroke-linecap="round" />
<path d="M313,1175 L410,1121" stroke="#666" stroke-width="2.0000000000000004" stroke-dasharray="0.7,1.1" fill="none"/>
<path d="M304.9,1156.2 L381.3,1112.6 L389.8,1104.6" fill="none" stroke="#222" stroke-width="2.0" stroke-linejoin="round" stroke-linecap="round" />
<path d="M306,1162 L392,1112" fill="none" stroke="#222" stroke-width="0.8" stroke-linejoin="round" stroke-linecap="round" />
<path d="M368.6,1101.5 L358,1106.8 C355.5,1108.5 356,1112 358,1114.5 C360,1117 362,1118.5 363.3,1119.2 L353.7,1123.2 L311.2,1142.9 C308,1144.8 305,1144 302.7,1142.4 L296,1139" fill="none" stroke="#222" stroke-width="1.8" stroke-linejoin="round" stroke-linecap="round" />
<path d="M303,1140 C304,1147 306,1150 307,1151" fill="none" stroke="#222" stroke-width="0.7" stroke-linejoin="round" stroke-linecap="round" />
<path d="M365.7,1090.9 L364.4,1100.9 L368.6,1101.5" fill="none" stroke="#222" stroke-width="1.2" stroke-linejoin="round" stroke-linecap="round" />
<ellipse cx="375" cy="1111.6" rx="3" ry="3.2" transform="rotate(0 375 1111.6)" fill="#fff" stroke="#222" stroke-width="1.4"/>
<path d="M389,1104.8 L389,1126" fill="none" stroke="#222" stroke-width="0.9" stroke-linejoin="round" stroke-linecap="round" />
<path d="M391,1108 L411,1119" fill="none" stroke="#222" stroke-width="3.6" stroke-linejoin="round" stroke-linecap="round" />
<path d="M391,1108 L411,1119" fill="none" stroke="#fff" stroke-width="1.2000000000000002" stroke-linejoin="round" stroke-linecap="round" />
<path d="M391,1108 L411,1119" stroke="#666" stroke-width="1.2000000000000002" stroke-dasharray="0.7,1.1" fill="none"/>
<path d="M401.4,1151.4 L408.4,1139" fill="none" stroke="#222" stroke-width="0.9" stroke-linejoin="round" stroke-linecap="round" />
<path d="M314.4,1126.4 L314.4,1130.4" fill="none" stroke="#333" stroke-width="0.9" stroke-linejoin="round" stroke-linecap="round" />
<path d="M328.2,1117.9 L328.2,1121.9" fill="none" stroke="#333" stroke-width="0.9" stroke-linejoin="round" stroke-linecap="round" />
<path d="M342,1110.5 L342,1114.5" fill="none" stroke="#333" stroke-width="0.9" stroke-linejoin="round" stroke-linecap="round" />
<path d="M355.3,1102.5 L355.3,1106.5" fill="none" stroke="#333" stroke-width="0.9" stroke-linejoin="round" stroke-linecap="round" />
<path d="M300,1134 L300,1138" fill="none" stroke="#333" stroke-width="0.9" stroke-linejoin="round" stroke-linecap="round" />
<path d="M346,1121 L346,1125" fill="none" stroke="#444" stroke-width="1.6" stroke-linejoin="round" stroke-linecap="round" />
<path d="M250.5,1185.3 L250.5,1152.9 L254.2,1146.7 L308,1174.5 L311.5,1179 L311.5,1213 L308,1215 L301.4,1213.5 L301.4,1207 L297,1208.6 L256,1184.7Z" fill="#fff" stroke="#222" stroke-width="1.6" stroke-linejoin="round"/>
<path d="M255,1156 L255,1184" fill="none" stroke="#222" stroke-width="0.9" stroke-linejoin="round" stroke-linecap="round" />
<path d="M256,1150 L308.5,1177.5" fill="none" stroke="#222" stroke-width="0.9" stroke-linejoin="round" stroke-linecap="round" />
<path d="M252.4,1155 L305.7,1182.5" fill="none" stroke="#222" stroke-width="2.0" stroke-linejoin="round" stroke-linecap="round" />
<path d="M306.3,1182.5 L306.3,1213.5" fill="none" stroke="#222" stroke-width="0.9" stroke-linejoin="round" stroke-linecap="round" />
<path d="M301.4,1207 L301.4,1192 L306,1190" fill="none" stroke="#222" stroke-width="1.0" stroke-linejoin="round" stroke-linecap="round" />
<path d="M263,1156 L265,1153 L270,1156 L282,1160 L285,1158 L292,1165" fill="none" stroke="#222" stroke-width="0.8" stroke-linejoin="round" stroke-linecap="round" />
<ellipse cx="281.2" cy="1197.6" rx="3.4" ry="3.4" transform="rotate(0 281.2 1197.6)" fill="#fff" stroke="#222" stroke-width="1.3"/>
<ellipse cx="281.2" cy="1197.6" rx="1.8" ry="1.8" transform="rotate(0 281.2 1197.6)" fill="none" stroke="#222" stroke-width="0.8"/>
<path d="M291,1184 L298,1188" fill="none" stroke="#555" stroke-width="1.4" stroke-linejoin="round" stroke-linecap="round" />
<path d="M290,1187 L297,1191" fill="none" stroke="#777" stroke-width="1.0" stroke-linejoin="round" stroke-linecap="round" />
<path d="M180.4,1183.1 L238.4,1214.5 L239.2,1214.5 L236.8,1215.8 L236.8,1262.3 L231.1,1263.5 L173.9,1228.8 L173.9,1205 C174,1195 176,1187 180.4,1183.1 Z" fill="#fff" stroke="#222" stroke-width="1.7" stroke-linejoin="round"/>
<path d="M192.7,1187.2 L239.2,1213 L239.2,1216" fill="none" stroke="#222" stroke-width="1.5" stroke-linejoin="round" stroke-linecap="round" />
<path d="M174.7,1204.3 C188,1222 210,1233 231.9,1237 L236.8,1236" fill="none" stroke="#222" stroke-width="1.6" stroke-linejoin="round" stroke-linecap="round" />
<path d="M231.9,1237 L231.9,1263" fill="none" stroke="#222" stroke-width="0.8" stroke-linejoin="round" stroke-linecap="round" />
<path d="M178.4,1210 L178.4,1223.9 L227,1250.9 L227,1238" fill="none" stroke="#222" stroke-width="0.9" stroke-linejoin="round" stroke-linecap="round" />
<path d="M183.7,1215.8 L183.7,1221.5 L227,1245.5" fill="none" stroke="#222" stroke-width="0.9" stroke-linejoin="round" stroke-linecap="round" />
<path d="M237.2,1224.7 L240.5,1225.6 L240.5,1248.4 L237.2,1250" fill="none" stroke="#222" stroke-width="1.1" stroke-linejoin="round" stroke-linecap="round" />
<path d="M302,948 L302,1160" fill="none" stroke="#333" stroke-width="1.35" stroke-dasharray="8,4"/>
<path d="M375.9,939.3 L375.9,1100" fill="none" stroke="#333" stroke-width="1.35" stroke-dasharray="8,4"/>
<path d="M375.9,1108 L371.5,1096 L375.9,1099 L380.3,1096 Z" fill="#222"/>
<path d="M301.8,1168 L297.4,1156 L301.8,1159 L306.2,1156 Z" fill="#222"/>
<path d="M321.5,1272.8 L328.8,1268.6 L330.8,1271.8 L323.5,1276 C322,1277 320.5,1274 321.5,1272.8 Z" fill="#fff" stroke="#222" stroke-width="1.1"/>
<path d="M323.5,1273.5 L325,1276" fill="none" stroke="#666" stroke-width="0.6" stroke-linejoin="round" stroke-linecap="round" />
<path d="M326,1272 L327.5,1274.5" fill="none" stroke="#666" stroke-width="0.6" stroke-linejoin="round" stroke-linecap="round" />
<ellipse cx="331.4" cy="1268.8" rx="3.6" ry="3.9" transform="rotate(-30 331.4 1268.8)" fill="#fff" stroke="#222" stroke-width="1.3"/>
<ellipse cx="332" cy="1268.5" rx="1.8" ry="2.2" transform="rotate(-30 332 1268.5)" fill="none" stroke="#666" stroke-width="0.7"/>
<ellipse cx="945" cy="340" rx="9.5" ry="13" transform="rotate(-25 945 340)" fill="none" stroke="#333" stroke-width="1.2"/>
<ellipse cx="946.5" cy="340" rx="6.5" ry="10" transform="rotate(-25 946.5 340)" fill="none" stroke="#333" stroke-width="1.1"/>
<ellipse cx="945.7" cy="340" rx="8" ry="11.5" transform="rotate(-25 945.7 340)" fill="none" stroke="#333" stroke-width="2.4" stroke-dasharray="1,1.2"/>
<path d="M939,330 C940,326 943,325 946,326 L956,331 C957,334 956,336 954,337 Z" fill="#fff" stroke="#333" stroke-width="1.1"/>
<path d="M946,328 L955,333" fill="none" stroke="#222" stroke-width="0.7" stroke-linejoin="round" stroke-linecap="round" />
<ellipse cx="878.5" cy="840" rx="8.5" ry="11.5" transform="rotate(-25 878.5 840)" fill="none" stroke="#333" stroke-width="1.2"/>
<ellipse cx="880" cy="840" rx="5.5" ry="8.5" transform="rotate(-25 880 840)" fill="none" stroke="#333" stroke-width="1.1"/>
<ellipse cx="879.2" cy="840" rx="7" ry="10" transform="rotate(-25 879.2 840)" fill="none" stroke="#333" stroke-width="2.4" stroke-dasharray="1,1.2"/>
<path d="M872,830.5 C873,827 876,826 879,827 L888,832 C889,835 888,837 886,838 Z" fill="#fff" stroke="#333" stroke-width="1.1"/>
<path d="M879,829 L887,834" fill="none" stroke="#222" stroke-width="0.7" stroke-linejoin="round" stroke-linecap="round" />
<ellipse cx="661" cy="786" rx="5" ry="6.5" transform="rotate(-10 661 786)" fill="#fff" stroke="#444" stroke-width="1.5"/>
<ellipse cx="661.5" cy="786" rx="3" ry="4.5" transform="rotate(-10 661.5 786)" fill="none" stroke="#666" stroke-width="0.8"/>
<path d="M656,782 L656,774 C656,770 661,770 661,774 L661,781" fill="#fff" stroke="#444" stroke-width="1.3"/>
<path d="M657.5,780 L657.5,774 C657.5,772 659.5,772 659.5,774 L659.5,780" fill="none" stroke="#777" stroke-width="0.7"/>
<path d="M664,783 L665,778 C666,775 669,776 668,779 L667,784" fill="#fff" stroke="#444" stroke-width="1.2"/>
<ellipse cx="796" cy="697" rx="5" ry="6.5" transform="rotate(-10 796 697)" fill="#fff" stroke="#444" stroke-width="1.5"/>
<ellipse cx="796.5" cy="697" rx="3" ry="4.5" transform="rotate(-10 796.5 697)" fill="none" stroke="#666" stroke-width="0.8"/>
<path d="M791,693 L791,685 C791,681 796,681 796,685 L796,692" fill="#fff" stroke="#444" stroke-width="1.3"/>
<path d="M792.5,691 L792.5,685 C792.5,683 794.5,683 794.5,685 L794.5,691" fill="none" stroke="#777" stroke-width="0.7"/>
<path d="M799,694 L800,689 C801,686 804,687 803,690 L802,695" fill="#fff" stroke="#444" stroke-width="1.2"/>
<g id="leaders"><line x1="856.6" y1="320.0" x2="918.7" y2="330.9" stroke="#fff" stroke-width="7"/><line x1="856.6" y1="320.0" x2="923.7" y2="331.8" stroke="#2a2a2a" stroke-width="1.5"/><path d="M933.5,333.5 L919.9,335.8 L923.7,331.8 L921.5,326.7Z" fill="#2a2a2a"/><line x1="970.9" y1="425.1" x2="898.5" y2="451.5" stroke="#fff" stroke-width="7"/><line x1="970.9" y1="425.1" x2="893.8" y2="453.2" stroke="#2a2a2a" stroke-width="1.5"/><path d="M884.4,456.6 L895.0,447.8 L893.8,453.2 L898.2,456.5Z" fill="#2a2a2a"/><line x1="986.3" y1="437.5" x2="979.0" y2="483.5" stroke="#fff" stroke-width="7"/><line x1="986.3" y1="437.5" x2="978.2" y2="488.4" stroke="#2a2a2a" stroke-width="1.5"/><path d="M976.6,498.3 L974.1,484.7 L978.2,488.4 L983.2,486.2Z" fill="#2a2a2a"/><line x1="362.6" y1="728.2" x2="403.4" y2="750.6" stroke="#fff" stroke-width="7"/><line x1="362.6" y1="728.2" x2="407.7" y2="753.0" stroke="#2a2a2a" stroke-width="1.5"/><path d="M416.5,757.8 L402.9,755.6 L407.7,753.0 L407.3,747.5Z" fill="#2a2a2a"/><line x1="405.7" y1="691.8" x2="431.9" y2="707.1" stroke="#fff" stroke-width="7"/><line x1="405.7" y1="691.8" x2="436.2" y2="709.6" stroke="#2a2a2a" stroke-width="1.5"/><path d="M444.8,714.7 L431.3,712.1 L436.2,709.6 L435.9,704.2Z" fill="#2a2a2a"/><line x1="612.3" y1="712.5" x2="647.2" y2="758.6" stroke="#fff" stroke-width="7"/><line x1="612.3" y1="712.5" x2="650.2" y2="762.6" stroke="#2a2a2a" stroke-width="1.5"/><path d="M656.2,770.6 L644.7,763.0 L650.2,762.6 L652.0,757.5Z" fill="#2a2a2a"/><line x1="683.3" y1="699.9" x2="720.3" y2="721.6" stroke="#fff" stroke-width="7"/><line x1="683.3" y1="699.9" x2="724.6" y2="724.1" stroke="#2a2a2a" stroke-width="1.5"/><path d="M733.2,729.2 L719.7,726.6 L724.6,724.1 L724.3,718.7Z" fill="#2a2a2a"/><line x1="743.8" y1="664.2" x2="778.4" y2="679.3" stroke="#fff" stroke-width="7"/><line x1="743.8" y1="664.2" x2="783.0" y2="681.3" stroke="#2a2a2a" stroke-width="1.5"/><path d="M792.2,685.3 L778.4,684.3 L783.0,681.3 L782.1,675.9Z" fill="#2a2a2a"/><line x1="808.8" y1="804.8" x2="858.6" y2="827.3" stroke="#fff" stroke-width="7"/><line x1="808.8" y1="804.8" x2="863.2" y2="829.4" stroke="#2a2a2a" stroke-width="1.5"/><path d="M872.3,833.5 L858.6,832.3 L863.2,829.4 L862.3,824.0Z" fill="#2a2a2a"/><line x1="1060.5" y1="824.4" x2="1049.6" y2="879.2" stroke="#fff" stroke-width="7"/><line x1="1060.5" y1="824.4" x2="1048.6" y2="884.1" stroke="#2a2a2a" stroke-width="1.5"/><path d="M1046.7,893.9 L1044.7,880.3 L1048.6,884.1 L1053.7,882.0Z" fill="#2a2a2a"/><line x1="884.0" y1="1121.7" x2="862.3" y2="1071.6" stroke="#fff" stroke-width="7"/><line x1="884.0" y1="1121.7" x2="860.4" y2="1067.0" stroke="#2a2a2a" stroke-width="1.5"/><path d="M856.4,1057.8 L865.8,1067.9 L860.4,1067.0 L857.3,1071.6Z" fill="#2a2a2a"/><line x1="676.1" y1="1100.0" x2="657.7" y2="1043.7" stroke="#fff" stroke-width="7"/><line x1="676.1" y1="1100.0" x2="656.2" y2="1038.9" stroke="#2a2a2a" stroke-width="1.5"/><path d="M653.1,1029.4 L661.5,1040.3 L656.2,1038.9 L652.8,1043.2Z" fill="#2a2a2a"/><line x1="460.7" y1="1201.6" x2="413.6" y2="1163.4" stroke="#fff" stroke-width="7"/><line x1="460.7" y1="1201.6" x2="409.7" y2="1160.3" stroke="#2a2a2a" stroke-width="1.5"/><path d="M401.9,1154.0 L414.9,1158.6 L409.7,1160.3 L409.1,1165.8Z" fill="#2a2a2a"/><line x1="377.0" y1="1280.0" x2="351.1" y2="1273.9" stroke="#fff" stroke-width="7"/><line x1="377.0" y1="1280.0" x2="346.2" y2="1272.8" stroke="#2a2a2a" stroke-width="1.5"/><path d="M336.5,1270.5 L350.2,1269.0 L346.2,1272.8 L348.1,1277.9Z" fill="#2a2a2a"/><line x1="160.7" y1="1111.5" x2="174.7" y2="1168.1" stroke="#fff" stroke-width="7"/><line x1="160.7" y1="1111.5" x2="175.9" y2="1173.0" stroke="#2a2a2a" stroke-width="1.5"/><path d="M178.3,1182.7 L170.7,1171.2 L175.9,1173.0 L179.6,1169.0Z" fill="#2a2a2a"/><line x1="198.4" y1="883.8" x2="242.0" y2="912.6" stroke="#fff" stroke-width="7"/><line x1="198.4" y1="883.8" x2="246.2" y2="915.4" stroke="#2a2a2a" stroke-width="1.5"/><path d="M254.5,920.9 L241.1,917.6 L246.2,915.4 L246.2,909.9Z" fill="#2a2a2a"/><line x1="275.6" y1="833.5" x2="312.0" y2="869.7" stroke="#2a2a2a" stroke-width="1.5"/></g>
<g id="callouts"><circle cx="838.3" cy="316.8" r="18.4" fill="#fff" stroke="#333" stroke-width="1.4"/><text x="838.3" y="326.8" text-anchor="middle" font-size="25" font-weight="bold" fill="#333">5</text>
<circle cx="989" cy="418.5" r="18.4" fill="#fff" stroke="#333" stroke-width="1.4"/><text x="989" y="428.5" text-anchor="middle" font-size="25" font-weight="bold" fill="#333">6</text>
<circle cx="726.4" cy="655.2" r="18.4" fill="#fff" stroke="#333" stroke-width="1.4"/><text x="726.4" y="665.2" text-anchor="middle" font-size="25" font-weight="bold" fill="#333">3</text>
<circle cx="389.7" cy="680.6" r="18.4" fill="#fff" stroke="#333" stroke-width="1.4"/><text x="389.7" y="690.6" text-anchor="middle" font-size="25" font-weight="bold" fill="#333">2</text>
<circle cx="345" cy="717.4" r="18.4" fill="#fff" stroke="#333" stroke-width="1.4"/><text x="345" y="727.4" text-anchor="middle" font-size="25" font-weight="bold" fill="#333">1</text>
<circle cx="600.4" cy="696.1" r="18.4" fill="#fff" stroke="#333" stroke-width="1.4"/><text x="600.4" y="706.1" text-anchor="middle" font-size="25" font-weight="bold" fill="#333">3</text>
<circle cx="666.5" cy="688.4" r="18.4" fill="#fff" stroke="#333" stroke-width="1.4"/><text x="666.5" y="698.4" text-anchor="middle" font-size="25" font-weight="bold" fill="#333">4</text>
<circle cx="791.7" cy="796.8" r="18.4" fill="#fff" stroke="#333" stroke-width="1.4"/><text x="791.7" y="806.8" text-anchor="middle" font-size="25" font-weight="bold" fill="#333">5</text>
<circle cx="1065" cy="805.3" r="18.4" fill="#fff" stroke="#333" stroke-width="1.4"/><text x="1065" y="815.3" text-anchor="middle" font-size="25" font-weight="bold" fill="#333">7</text>
<circle cx="262.4" cy="819.1" r="18.4" fill="#fff" stroke="#333" stroke-width="1.4"/><text x="262.4" y="829.1" text-anchor="middle" font-size="25" font-weight="bold" fill="#333">14</text>
<circle cx="182.5" cy="872.4" r="18.4" fill="#fff" stroke="#333" stroke-width="1.4"/><text x="182.5" y="882.4" text-anchor="middle" font-size="25" font-weight="bold" fill="#333">13</text>
<circle cx="682.3" cy="1118.4" r="18.4" fill="#fff" stroke="#333" stroke-width="1.4"/><text x="682.3" y="1128.4" text-anchor="middle" font-size="25" font-weight="bold" fill="#333">9</text>
<circle cx="891.8" cy="1140" r="18.4" fill="#fff" stroke="#333" stroke-width="1.4"/><text x="891.8" y="1150" text-anchor="middle" font-size="25" font-weight="bold" fill="#333">8</text>
<circle cx="155.6" cy="1092.5" r="18.4" fill="#fff" stroke="#333" stroke-width="1.4"/><text x="155.6" y="1102.5" text-anchor="middle" font-size="25" font-weight="bold" fill="#333">12</text>
<circle cx="476.3" cy="1213.5" r="18.4" fill="#fff" stroke="#333" stroke-width="1.4"/><text x="476.3" y="1223.5" text-anchor="middle" font-size="25" font-weight="bold" fill="#333">10</text>
<circle cx="395.6" cy="1283.6" r="18.4" fill="#fff" stroke="#333" stroke-width="1.4"/><text x="395.6" y="1293.6" text-anchor="middle" font-size="25" font-weight="bold" fill="#333">11</text>
</g>
</svg>
</body></html>
